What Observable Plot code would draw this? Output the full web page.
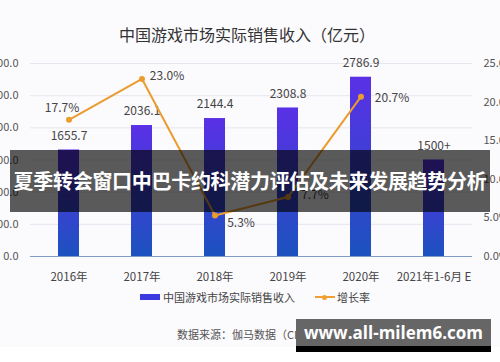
<!DOCTYPE html>
<html><head><meta charset="utf-8">
<script src="https://cdn.jsdelivr.net/npm/d3@7"></script>
<script src="https://cdn.jsdelivr.net/npm/@observablehq/plot@0.6"></script>
<style>
html,body{margin:0;padding:0;width:500px;height:362px;overflow:hidden;background:#fff;font-family:"Noto Sans CJK SC","Noto Sans",sans-serif;}
#wrap{position:relative;width:500px;height:362px;}
#bg{position:absolute;left:0;top:0;width:500px;height:347px;background:#fbfafd;}
#chart{position:absolute;left:0;top:0;}
.abs{position:absolute;white-space:nowrap;}
#title{left:0;width:494px;top:22px;text-align:center;font-size:16px;color:#333;}
#legend{left:140px;top:289px;font-size:11px;color:#444;display:flex;align-items:center;}
#source{left:177px;top:326px;font-size:11px;color:#555;}
#banner{left:10px;top:150px;width:480px;height:62px;background:rgba(0,0,0,0.64);color:#fff;font-weight:bold;font-size:20px;line-height:62px;text-align:center;letter-spacing:-0.3px;}
#wm{left:296px;top:319px;width:195px;height:27px;background:#666;color:#fff;font-weight:bold;font-size:17px;line-height:27px;text-align:center;font-family:"Open Sans","Noto Sans",sans-serif;border-bottom:6px solid #000;}
</style></head>
<body><div id="wrap"><div id="bg"></div><div id="chart"></div>
<div class="abs" id="title">中国游戏市场实际销售收入（亿元）</div>
<div class="abs" id="legend"><span style="display:inline-block;width:20px;height:6px;background:#3a3ae0;margin-right:3px"></span>中国游戏市场实际销售收入<span style="display:inline-block;width:20px;margin-left:20px;margin-right:2px;position:relative;height:10px"><span style="position:absolute;left:0;top:4px;width:20px;height:2px;background:#f0a030"></span><span style="position:absolute;left:7px;top:2.5px;width:5px;height:5px;border-radius:50%;background:#f0a030"></span></span>增长率</div>
<div class="abs" id="source">数据来源：伽马数据（CNG）</div>
<div class="abs" id="banner">夏季转会窗口中巴卡约科潜力评估及未来发展趋势分析</div>
<div class="abs" id="wm">www.all-milem6.com</div>
</div>
<script>
const years = ["2016年","2017年","2018年","2019年","2020年","2021年1-6月 E"];
const revenue = [1655.7, 2036.1, 2144.4, 2308.8, 2786.9, 1500];
const revenueLabels = ["1655.7","2036.1","2144.4","2308.8","2786.9","1500+"];
const growthYears = ["2016年","2017年","2018年","2019年","2020年"];
const growth = [17.7, 23.0, 5.3, 7.7, 20.7];
const leftTicks = [0, 500, 1000, 1500, 2000, 2500, 3000];
const rightTicks = [0, 5, 10, 15, 20, 25];

const k = 3000 / 25; // map percent onto revenue scale
const bars = years.map((y, i) => ({year: y, value: revenue[i], label: revenueLabels[i]}));
const line = growthYears.map((y, i) => ({year: y, g: growth[i], v: growth[i] * k}));
const labelOff = [{dx:-7,dy:-12},{dx:25,dy:-3},{dx:26,dy:8},{dx:27,dy:-2},{dx:31,dy:1}];

const defs = () => {
  const svg = d3.create("svg:defs");
  const g = svg.append("linearGradient").attr("id","barGrad").attr("x1",0).attr("y1",0).attr("x2",0).attr("y2",1);
  g.append("stop").attr("offset","0%").attr("stop-color","#5a30e6");
  g.append("stop").attr("offset","100%").attr("stop-color","#1c52bf");
  return svg.node();
};

const growthLabels = line.map((d, i) => Plot.text([d], {
  x: "year", y: "v", text: d => d.g.toFixed(1) + "%", fontSize: 12, fill: "#444",
  dx: labelOff[i].dx, dy: labelOff[i].dy
}));

const chart = Plot.plot({
  width: 500, height: 362,
  marginTop: 63, marginBottom: 106, marginLeft: 30, marginRight: 28,
  style: {background: "transparent", fontFamily: "'Noto Sans CJK SC','Noto Sans',sans-serif", overflow: "visible"},
  x: {domain: years, paddingInner: 0.715, paddingOuter: 0.3575, label: null},
  y: {domain: [0, 3000], label: null},
  marks: [
    defs,
    Plot.gridY(leftTicks, {stroke: "#e6e6ee", strokeOpacity: 1}),
    Plot.axisY(leftTicks, {anchor: "left", tickSize: 0, tickPadding: 12, tickFormat: d => d.toFixed(1), fontSize: 11, fill: "#555", label: null}),
    Plot.axisY(rightTicks.map(d => d * k), {anchor: "right", tickSize: 0, tickPadding: 11, tickFormat: d => (d / k).toFixed(1) + "%", fontSize: 11, fill: "#555", label: null}),
    Plot.barY(bars, {x: "year", y: "value", fill: "url(#barGrad)"}),
    Plot.ruleY([0], {stroke: "#7f9cc4", strokeWidth: 1.2}),
    Plot.axisX({tickSize: 0, tickPadding: 16, fontSize: 11.5, fill: "#444", label: null}),
    Plot.text(bars, {x: "year", y: "value", text: "label", dy: -14, fontSize: 12, fill: "#444"}),
    Plot.line(line, {x: "year", y: "v", stroke: "#eb9c2e", strokeWidth: 2}),
    Plot.dot(line, {x: "year", y: "v", r: 3, fill: "#eb9c2e"}),
    ...growthLabels
  ]
});
document.getElementById("chart").append(chart);
</script>
</body></html>
